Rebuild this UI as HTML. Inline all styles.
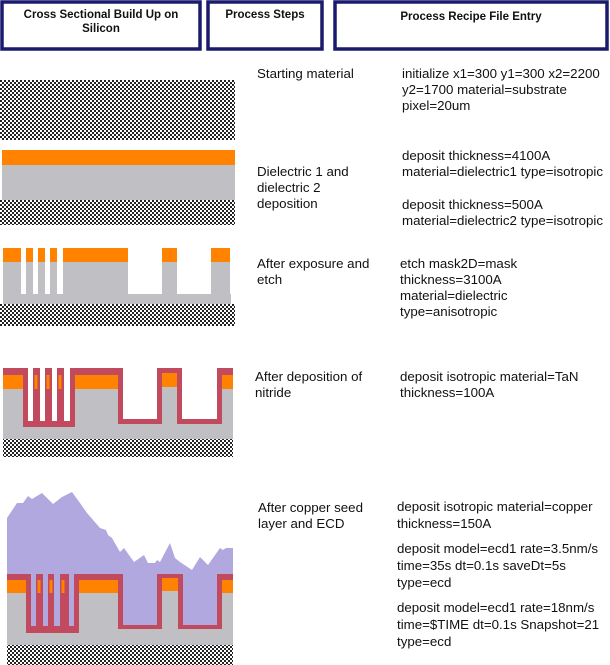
<!DOCTYPE html>
<html><head><meta charset="utf-8"><style>
html,body{margin:0;padding:0;background:#fff;}
svg{display:block;font-family:"Liberation Sans",Arial,sans-serif;}
.t{font-size:13.3px;fill:#111;}
.h{font-size:11.5px;font-weight:bold;fill:#111;text-anchor:middle;}
</style></head><body>
<svg width="610" height="665" viewBox="0 0 610 665">
<defs>
<pattern id="chk" width="4" height="4" patternUnits="userSpaceOnUse">
<rect width="4" height="4" fill="#fff"/><rect width="2" height="2" fill="#222"/><rect x="2" y="2" width="2" height="2" fill="#222"/>
</pattern>
</defs>
<g>
<rect x="2" y="2" width="198" height="47" fill="#fff" stroke="#1b1b6e" stroke-width="3.5"/>
<text class="h" x="101" y="18">Cross Sectional Build Up on</text><text class="h" x="101" y="32">Silicon</text></g>
<g>
<rect x="208" y="2" width="114" height="47" fill="#fff" stroke="#1b1b6e" stroke-width="3.5"/>
<text class="h" x="265" y="18">Process Steps</text></g>
<g>
<rect x="335" y="2" width="272" height="47" fill="#fff" stroke="#1b1b6e" stroke-width="3.5"/>
<text class="h" x="471" y="20">Process Recipe File Entry</text></g>

<rect x="0" y="80" width="235" height="60" fill="url(#chk)"/>

<g>
<rect x="0" y="200" width="235" height="25" fill="url(#chk)"/>
<rect x="2" y="165" width="233" height="35" fill="#c0bfc4"/>
<rect x="2" y="150" width="233" height="15" fill="#ff8200"/>
</g>

<g>
<rect x="0" y="304" width="235" height="22" fill="url(#chk)"/>
<rect x="3" y="294" width="228" height="10" fill="#c0bfc4"/>
<g fill="#c0bfc4">
<rect x="3" y="262" width="18" height="32"/><rect x="26" y="262" width="7" height="32"/><rect x="38" y="262" width="7" height="32"/><rect x="50" y="262" width="7" height="32"/><rect x="63" y="262" width="65" height="32"/><rect x="162" y="262" width="15" height="32"/><rect x="211" y="262" width="19" height="32"/>
</g>
<g fill="#ff8200">
<rect x="3" y="248" width="18" height="14"/><rect x="26" y="248" width="7" height="14"/><rect x="38" y="248" width="7" height="14"/><rect x="50" y="248" width="7" height="14"/><rect x="63" y="248" width="65" height="14"/><rect x="162" y="248" width="15" height="14"/><rect x="211" y="248" width="19" height="14"/>
</g></g>

<g>
<rect x="3" y="439" width="230" height="18" fill="url(#chk)"/>
<rect x="3" y="372" width="230" height="67" fill="#c0bfc4"/>
<g fill="#c24a5f">
<rect x="3" y="368" width="230" height="7"/>
<rect x="23" y="368" width="15" height="59"/><rect x="35" y="368" width="15" height="59"/><rect x="47" y="368" width="15" height="59"/><rect x="59" y="368" width="16" height="59"/>
<rect x="118" y="368" width="44" height="56"/><rect x="177" y="368" width="45" height="56"/>
</g>
<g fill="#ff8200">
<rect x="3" y="375" width="20" height="14"/><rect x="34.5" y="375" width="3" height="14"/><rect x="46.5" y="375" width="3" height="14"/><rect x="58.5" y="375" width="3" height="14"/><rect x="75" y="375" width="43" height="14"/><rect x="162" y="373" width="15" height="14"/><rect x="222" y="375" width="11" height="14"/>
</g>
<g fill="#fff">
<rect x="28" y="360" width="5" height="61"/><rect x="40" y="360" width="5" height="61"/><rect x="52" y="360" width="5" height="61"/><rect x="64" y="360" width="6" height="61"/><rect x="123" y="360" width="34" height="59"/><rect x="182" y="360" width="35" height="59"/>
</g>
</g>

<g>
<rect x="7" y="645" width="226" height="20" fill="url(#chk)"/>
<rect x="7" y="576" width="226" height="69" fill="#c0bfc4"/>
<polygon fill="#b0a8de" points="7,547 7,518 17,503 23,503 28,496 32,499 42,493 53,504 62,497 72,492 80,503 87,513 100,528 106,530 108,535 112,538 120,552 124,548 134,562 144,555 148,563 155,563 157,560 160,562 170,543 175,558 180,562 192,570 200,557 208,565 220,548 223,550 226,548 233,548 233,576 7,576"/>
<g fill="#c24a5f">
<rect x="7" y="574" width="226" height="6"/>
<rect x="26" y="574" width="15" height="59"/><rect x="38" y="574" width="15" height="59"/><rect x="49" y="574" width="16" height="59"/><rect x="64" y="574" width="15" height="59"/>
<rect x="118" y="574" width="44" height="55"/><rect x="178" y="574" width="44" height="55"/>
</g>
<g fill="#ff8200">
<rect x="7" y="580" width="19" height="13"/><rect x="37.5" y="580" width="3" height="13"/><rect x="49.5" y="580" width="3" height="13"/><rect x="61.5" y="580" width="3" height="13"/><rect x="79" y="580" width="39" height="13"/><rect x="162" y="578" width="16" height="13"/><rect x="222" y="580" width="11" height="13"/>
</g>
<g fill="#b0a8de">
<rect x="31" y="570" width="5" height="56"/><rect x="43" y="570" width="5" height="56"/><rect x="54" y="570" width="6" height="56"/><rect x="69" y="570" width="5" height="56"/><rect x="123" y="570" width="34" height="55"/><rect x="183" y="570" width="34" height="55"/>
</g>
</g>

<g>
<text class="t" x="257" y="78">Starting material</text>
<text class="t" x="257" y="176">Dielectric 1 and</text><text class="t" x="257" y="192">dielectric 2</text><text class="t" x="257" y="208">deposition</text>
<text class="t" x="257" y="268">After exposure and</text><text class="t" x="257" y="284">etch</text>
<text class="t" x="255" y="381">After deposition of</text><text class="t" x="255" y="397">nitride</text>
<text class="t" x="258" y="512">After copper seed</text><text class="t" x="258" y="528">layer and ECD</text>
</g>
<g>
<text class="t" x="402" y="78">initialize x1=300 y1=300 x2=2200</text><text class="t" x="402" y="94">y2=1700 material=substrate</text><text class="t" x="402" y="110">pixel=20um</text>
<text class="t" x="402" y="160">deposit thickness=4100A</text><text class="t" x="402" y="176">material=dielectric1 type=isotropic</text>
<text class="t" x="402" y="209">deposit thickness=500A</text><text class="t" x="402" y="225">material=dielectric2 type=isotropic</text>
<text class="t" x="400" y="268">etch mask2D=mask</text><text class="t" x="400" y="284">thickness=3100A</text><text class="t" x="400" y="300">material=dielectric</text><text class="t" x="400" y="316">type=anisotropic</text>
<text class="t" x="400" y="381">deposit isotropic material=TaN</text><text class="t" x="400" y="397">thickness=100A</text>
<text class="t" x="397" y="511">deposit isotropic material=copper</text><text class="t" x="397" y="528">thickness=150A</text>
<text class="t" x="397" y="553">deposit model=ecd1 rate=3.5nm/s</text><text class="t" x="397" y="570">time=35s dt=0.1s saveDt=5s</text><text class="t" x="397" y="587">type=ecd</text>
<text class="t" x="397" y="612">deposit model=ecd1 rate=18nm/s</text><text class="t" x="397" y="629">time=$TIME dt=0.1s Snapshot=21</text><text class="t" x="397" y="646">type=ecd</text>
</g>
</svg>
</body></html>
